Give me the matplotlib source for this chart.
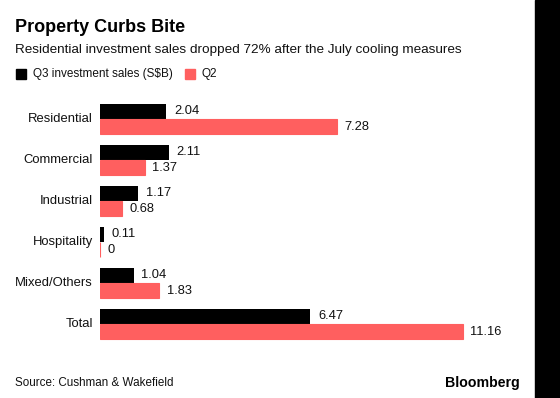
import matplotlib
matplotlib.use("Agg")
import matplotlib.pyplot as plt
from matplotlib.patches import Rectangle

categories = ["Residential", "Commercial", "Industrial", "Hospitality", "Mixed/Others", "Total"]
q3_values = [2.04, 2.11, 1.17, 0.11, 1.04, 6.47]
q2_values = [7.28, 1.37, 0.68, 0, 1.83, 11.16]
q3_labels = ["2.04", "2.11", "1.17", "0.11", "1.04", "6.47"]
q2_labels = ["7.28", "1.37", "0.68", "0", "1.83", "11.16"]

plt.rcParams['font.family'] = ['Liberation Sans', 'DejaVu Sans']

W, H = 560, 398
fig = plt.figure(figsize=(W / 100, H / 100), dpi=100)
fig.patch.set_facecolor("white")

BLACK = "#000000"
RED = "#ff5f5f"
TXT = "#111111"

ax_top = 94.4
ax_bot = 348.6
ax = fig.add_axes([100 / W, 1 - ax_bot / H, 390 / W, (ax_bot - ax_top) / H])
ax.set_xlim(0, 12)
ax.set_ylim(5.6, -0.6)
ax.axis("off")

bh = 0.378
ys = list(range(len(categories)))
ax.barh([y - bh / 2 for y in ys], q3_values, height=bh, color=BLACK, linewidth=0)
ax.barh([y + bh / 2 for y in ys], q2_values, height=bh, color=RED,
        edgecolor=RED, linewidth=0.8)

for y, v, lab in zip(ys, q3_values, q3_labels):
    ax.annotate(lab, (v, y - bh / 2), xytext=(5.5, 0), textcoords="offset points",
                va="center", ha="left", fontsize=9.3, color=TXT)
for y, v, lab in zip(ys, q2_values, q2_labels):
    ax.annotate(lab, (v, y + bh / 2), xytext=(5.5, 0), textcoords="offset points",
                va="center", ha="left", fontsize=9.3, color=TXT)
for y, c in zip(ys, categories):
    ax.annotate(c, (0, y), xytext=(-5, 0), textcoords="offset points",
                va="center", ha="right", fontsize=9.4, color=TXT)

def fy(py):
    return 1 - py / H

fig.text(15 / W, fy(27), "Property Curbs Bite", fontsize=13, fontweight="bold",
         va="center", ha="left", color="#000000")
fig.text(15 / W, fy(50), "Residential investment sales dropped 72% after the July cooling measures",
         fontsize=9.7, va="center", ha="left", color=TXT)

fig.patches.append(Rectangle((16 / W, fy(79)), 10 / W, 10 / H, transform=fig.transFigure,
                             color=BLACK, figure=fig))
fig.text(33 / W, fy(74), "Q3 investment sales (S$B)", fontsize=8.5, va="center", ha="left",
         color=TXT)
fig.patches.append(Rectangle((185 / W, fy(79)), 10 / W, 10 / H, transform=fig.transFigure,
                             color=RED, figure=fig))
fig.text(202 / W, fy(74), "Q2", fontsize=8.5, va="center", ha="left", color=TXT)

fig.text(15 / W, fy(383), "Source: Cushman & Wakefield", fontsize=8.4, va="center", ha="left",
         color=TXT)
fig.text(520 / W, fy(383), "Bloomberg", fontsize=10.2, fontweight="bold", va="center",
         ha="right", color="#000000")

fig.patches.append(Rectangle((535 / W, 0), 25 / W, 1, transform=fig.transFigure,
                             color="#000000", figure=fig))

fig.savefig("out.png", dpi=100, facecolor="white")
